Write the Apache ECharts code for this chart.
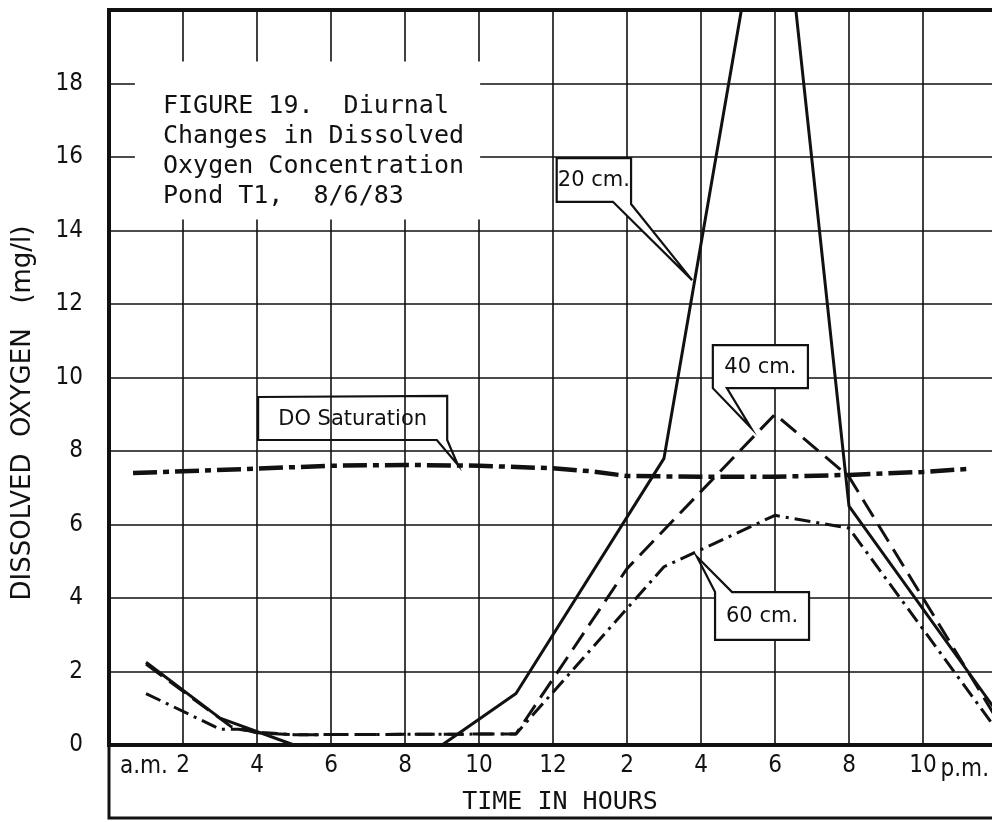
<!DOCTYPE html>
<html>
<head>
<meta charset="utf-8">
<script src="https://cdn.jsdelivr.net/npm/echarts@6/dist/echarts.min.js"></script>
<style>
  html, body { margin: 0; padding: 0; background: #fff; }
  #chart { width: 992px; height: 822px; }
</style>
</head>
<body>
<div id="chart"></div>
<script>
// Dissolved oxygen (mg/l) by hour of day, pond T1, 8/6/83
const hours20 = [1, 3, 5, 9, 11, 15, 18, 20, 24];
const oxygen20 = [2.25, 0.73, 0, 0, 1.4, 7.8, 25.3, 6.5, 0.9];

const hours40 = [1, 3.3, 4, 5, 11, 14, 18, 20, 24];
const oxygen40 = [2.2, 0.5, 0.33, 0.28, 0.3, 4.8, 9.0, 7.3, 0.7];

const hours60 = [1, 3, 3.5, 4, 5, 11, 15, 18, 20, 24];
const oxygen60 = [1.4, 0.43, 0.43, 0.35, 0.28, 0.3, 4.85, 6.25, 5.9, 0.4];

const hoursSat = [0.65, 2, 4, 6, 8, 10, 12, 13, 14, 16, 18, 20, 22, 23.3];
const oxygenSat = [7.4, 7.45, 7.52, 7.6, 7.62, 7.6, 7.53, 7.45, 7.32, 7.3, 7.3, 7.35, 7.43, 7.52];

// tick labels every two hours, midnight to midnight
const xTickLabels = ['', '2', '4', '6', '8', '10', '12', '2', '4', '6', '8', '10', ''];
const yTickLabels = ['0', '2', '4', '6', '8', '10', '12', '14', '16', '18', ''];

const captionLines = ['FIGURE 19.  Diurnal', 'Changes in Dissolved', 'Oxygen Concentration', 'Pond T1,  8/6/83'];

function pairs(xs, ys) { return xs.map((x, i) => [x, ys[i]]); }

const INK = '#111';
const NUM_FONT = '"Liberation Sans Narrow", "DejaVu Sans Condensed", "DejaVu Sans", sans-serif';
const MONO_FONT = '"DejaVu Sans Mono", "Liberation Mono", monospace';
const LABEL_FONT = '"DejaVu Sans", "Noto Sans", sans-serif';

const chart = echarts.init(document.getElementById('chart'), null, { renderer: 'canvas' });

chart.setOption({
  animation: false,
  backgroundColor: '#fff',
  grid: {
    left: 109, right: -5, top: 10, bottom: 77,
    outerBoundsMode: 'none',
    show: true, borderColor: INK, borderWidth: 4, backgroundColor: 'transparent'
  },
  xAxis: {
    type: 'value', min: 0, max: 24, interval: 2,
    axisLine: { show: false }, axisTick: { show: false },
    splitLine: { show: true, lineStyle: { color: INK, width: 1.6 } },
    axisLabel: {
      margin: 9, color: INK, fontSize: 24, fontFamily: NUM_FONT,
      showMinLabel: true, showMaxLabel: true,
      formatter: v => xTickLabels[Math.round(v / 2)] || ''
    }
  },
  yAxis: {
    type: 'value', min: 0, max: 20, interval: 2,
    axisLine: { show: false }, axisTick: { show: false },
    splitLine: { show: true, lineStyle: { color: INK, width: 1.6 } },
    axisLabel: {
      margin: 26, color: INK, fontSize: 24, fontFamily: NUM_FONT,
      formatter: v => yTickLabels[Math.round(v / 2)] || ''
    }
  },
  series: [
    {
      name: '20 cm.', type: 'line', data: pairs(hours20, oxygen20),
      showSymbol: false, clip: true, z: 5,
      lineStyle: { color: INK, width: 3, type: 'solid' }
    },
    {
      name: '40 cm.', type: 'line', data: pairs(hours40, oxygen40),
      showSymbol: false, clip: true, z: 5,
      lineStyle: { color: INK, width: 3, type: [20, 9] }
    },
    {
      name: '60 cm.', type: 'line', data: pairs(hours60, oxygen60),
      showSymbol: false, clip: true, z: 5,
      lineStyle: { color: INK, width: 3, type: [16, 6, 3, 6] }
    },
    {
      name: 'DO Saturation', type: 'line', data: pairs(hoursSat, oxygenSat),
      showSymbol: false, clip: true, z: 5,
      lineStyle: { color: INK, width: 4.5, type: [24, 6, 6, 6] }
    }
  ]
});

// Callout boxes, laid out in (hour, mg/l) units
const callouts = [
  { text: '20 cm.', fill: '#fff',
    outline: [[12.1, 15.97], [14.11, 15.97], [14.11, 14.72], [15.76, 12.65], [13.62, 14.78], [12.1, 14.78]],
    box: [12.1, 14.78, 14.11, 15.97] },
  { text: '40 cm.', fill: '#fff',
    outline: [[16.32, 10.88], [18.89, 10.88], [18.89, 9.71], [16.7, 9.71], [17.35, 8.63], [16.32, 9.71]],
    box: [16.32, 9.71, 18.89, 10.88] },
  { text: '60 cm.', fill: '#fff',
    outline: [[16.38, 4.16], [15.89, 5.12], [16.84, 4.16], [18.92, 4.16], [18.92, 2.86], [16.38, 2.86]],
    box: [16.38, 2.86, 18.92, 4.16] },
  { text: 'DO Saturation', fill: 'transparent',
    outline: [[4.03, 9.47], [9.14, 9.5], [9.14, 8.3], [9.43, 7.62], [8.86, 8.3], [4.03, 8.3]],
    box: [4.03, 8.3, 9.14, 9.47] }
];

function px(h, v) { return chart.convertToPixel({ gridIndex: 0 }, [h, v]); }

function buildGraphics() {
  const g = [];
  const origin = px(0, 0);
  const far = px(24, 0);
  const top = px(0, 20);
  const right = Math.min(far[0], 992);

  // white panel behind the figure caption
  const capA = px(0.7, 18.6), capB = px(10.03, 14.3);
  g.push({ type: 'rect', z: 50,
    shape: { x: capA[0], y: capA[1], width: capB[0] - capA[0], height: capB[1] - capA[1] },
    style: { fill: '#fff' } });
  g.push({ type: 'text', z: 51, x: origin[0] + 54, y: top[1] + 81,
    style: { text: captionLines.join('\n'), fill: INK, font: '25px ' + MONO_FONT, lineHeight: 30,
             verticalAlign: 'top', align: 'left' } });

  // callouts
  callouts.forEach(c => {
    g.push({ type: 'polygon', z: 60,
      shape: { points: c.outline.map(p => px(p[0], p[1])) },
      style: { fill: c.fill, stroke: INK, lineWidth: 2.2, lineJoin: 'miter' } });
    const a = px(c.box[0], c.box[1]), b = px(c.box[2], c.box[3]);
    g.push({ type: 'text', z: 61, x: (a[0] + b[0]) / 2, y: (a[1] + b[1]) / 2 + 1,
      style: { text: c.text, fill: INK, font: '21px ' + LABEL_FONT, align: 'center', verticalAlign: 'middle' } });
  });

  // box under the hour axis
  g.push({ type: 'polyline', z: 40,
    shape: { points: [[origin[0], origin[1]], [origin[0], origin[1] + 73], [right + 4, origin[1] + 73]] },
    style: { stroke: INK, lineWidth: 3, fill: null } });

  // a.m. / p.m. markers beside the end tick labels
  g.push({ type: 'text', z: 40, x: origin[0] + 11, y: origin[1] + 10,
    style: { text: 'a.m.', fill: INK, font: '24px ' + NUM_FONT, align: 'left', verticalAlign: 'top' } });
  g.push({ type: 'text', z: 40, x: right - 3, y: origin[1] + 13,
    style: { text: 'p.m.', fill: INK, font: '24px ' + NUM_FONT, align: 'right', verticalAlign: 'top' } });

  // axis titles
  g.push({ type: 'text', z: 40, x: 560, y: origin[1] + 57,
    style: { text: 'TIME IN HOURS', fill: INK, font: '25px ' + MONO_FONT, align: 'center', verticalAlign: 'middle' } });
  g.push({ type: 'text', z: 40, x: 23, y: 413, rotation: Math.PI / 2,
    style: { text: 'DISSOLVED  OXYGEN   (mg/l)', fill: INK, font: '26px ' + LABEL_FONT, align: 'center', verticalAlign: 'middle' } });

  return g;
}

chart.setOption({ graphic: buildGraphics() });
</script>
</body>
</html>
